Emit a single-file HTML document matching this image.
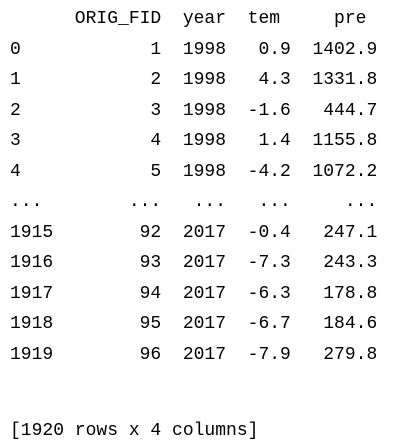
<!DOCTYPE html>
<html><head><meta charset="utf-8"><style>
html,body{margin:0;padding:0;background:#fff;width:400px;height:447px;overflow:hidden}
pre{position:absolute;left:10px;margin:0;font-family:"Liberation Mono",monospace;font-size:18px;letter-spacing:0;line-height:30.5px;color:#000}
</style></head><body>
<pre style="top:4px">      ORIG_FID  year  tem     pre
0            1  1998   0.9  1402.9
1            2  1998   4.3  1331.8
2            3  1998  -1.6   444.7
3            4  1998   1.4  1155.8
4            5  1998  -4.2  1072.2
...        ...   ...   ...     ...
1915        92  2017  -0.4   247.1
1916        93  2017  -7.3   243.3
1917        94  2017  -6.3   178.8
1918        95  2017  -6.7   184.6
1919        96  2017  -7.9   279.8</pre>
<pre style="top:416px">[1920 rows x 4 columns]</pre>
</body></html>
